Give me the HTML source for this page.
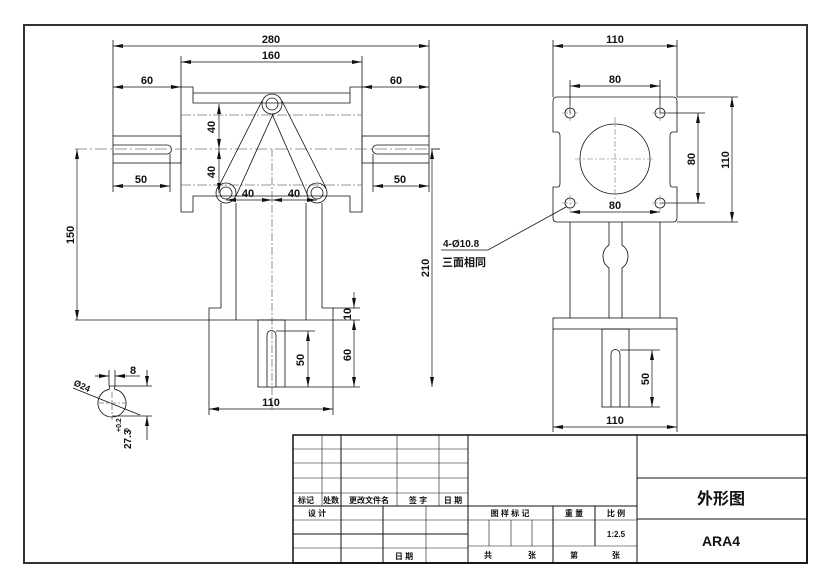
<!DOCTYPE html>
<html><head><meta charset="utf-8"><style>
html,body{margin:0;padding:0;background:#fff;width:833px;height:587px;overflow:hidden}
svg{display:block}
text{font-family:"Liberation Sans","Noto Sans CJK SC",sans-serif;font-weight:bold;fill:#111}
</style></head><body>
<svg width="833" height="587" viewBox="0 0 833 587" xmlns="http://www.w3.org/2000/svg">
<defs>
<marker id="a" viewBox="0 0 10 4" refX="10" refY="2" markerWidth="10" markerHeight="4" orient="auto-start-reverse" markerUnits="userSpaceOnUse"><path d="M0,0 L10,2 L0,4z" fill="#111"/></marker>
</defs>
<rect x="24" y="25" width="783" height="538" fill="none" stroke="#333" stroke-width="2"/>
<g stroke="#111" stroke-width="0.8" fill="none">
<path d="M181,87 H193 V103 H350 V87 H362 V212 H350 V196 H193 V212 H181 Z"/>
<line x1="193" y1="93" x2="350" y2="93"/>
<line x1="181" y1="115" x2="362" y2="115" stroke="#777" stroke-dasharray="10,2,2,2"/>
<line x1="181" y1="185" x2="362" y2="185" stroke="#777" stroke-dasharray="10,2,2,2"/>
<rect x="113" y="136" width="68" height="27"/>
<path d="M113,145 H167 A4.5,4.5 0 0 1 167,154 H113"/>
<rect x="362" y="136" width="67" height="27"/>
<path d="M429,145 H377 A4.5,4.5 0 0 0 377,154 H429"/>
<line x1="75" y1="149" x2="440" y2="149" stroke="#777" stroke-dasharray="12,3,2,3"/>
<line x1="272" y1="149" x2="272" y2="410" stroke="#777" stroke-dasharray="8,2,2,2"/>
<circle cx="272" cy="104" r="10"/><circle cx="272" cy="104" r="6"/>
<circle cx="226" cy="193" r="10"/><circle cx="226" cy="193" r="6"/>
<circle cx="317" cy="193" r="10"/><circle cx="317" cy="193" r="6"/>
<line x1="262" y1="101" x2="218" y2="188"/><line x1="273" y1="114" x2="236" y2="196"/>
<line x1="282" y1="101" x2="326" y2="188"/><line x1="272" y1="114" x2="308" y2="196"/>
<line x1="221" y1="203" x2="221" y2="308"/><line x1="322" y1="203" x2="322" y2="308"/>
<line x1="236" y1="203" x2="236" y2="320"/><line x1="306" y1="203" x2="306" y2="320"/>
<path d="M221,308 H209 V415 M322,308 H333 V415"/>
<line x1="75" y1="320" x2="360" y2="320"/>
<rect x="258" y="320" width="27" height="67"/>
<path d="M267,387 V335 A4.5,4.5 0 0 1 276,335 V387"/>
<line x1="285" y1="387" x2="360" y2="387"/>
<line x1="276" y1="331" x2="315" y2="331"/>
<line x1="333" y1="308" x2="360" y2="308"/>
<line x1="113" y1="40" x2="113" y2="136"/><line x1="429" y1="40" x2="429" y2="136"/>
<line x1="181" y1="56" x2="181" y2="87"/><line x1="362" y1="56" x2="362" y2="87"/>
<line x1="113" y1="163" x2="113" y2="192"/><line x1="170" y1="154" x2="170" y2="192"/>
<line x1="373" y1="154" x2="373" y2="192"/><line x1="429" y1="163" x2="429" y2="192"/>
<line x1="432" y1="149" x2="440" y2="149"/>
</g>
<g stroke="#111" stroke-width="0.7" fill="none" marker-start="url(#a)" marker-end="url(#a)">
<line x1="113" y1="46" x2="429" y2="46"/>
<line x1="181" y1="62" x2="362" y2="62"/>
<line x1="113" y1="87" x2="181" y2="87"/>
<line x1="362" y1="87" x2="429" y2="87"/>
<line x1="113" y1="186" x2="170" y2="186"/>
<line x1="373" y1="186" x2="429" y2="186"/>
<line x1="219" y1="104" x2="219" y2="149"/>
<line x1="219" y1="149" x2="219" y2="193"/>
<line x1="226" y1="200" x2="272" y2="200"/>
<line x1="272" y1="200" x2="317" y2="200"/>
<line x1="77" y1="149" x2="77" y2="320"/>
<line x1="432" y1="149" x2="432" y2="387"/>
<line x1="308" y1="331" x2="308" y2="387"/>
<line x1="209" y1="409" x2="333" y2="409"/>
<line x1="354" y1="320" x2="354" y2="387"/>
</g>
<g stroke="#111" stroke-width="0.7" fill="none">
<line x1="354" y1="292" x2="354" y2="308" marker-end="url(#a)"/>
<line x1="354" y1="320" x2="354" y2="330"/>
</g>
<g font-size="11" text-anchor="middle">
<text x="271" y="43">280</text><text x="271" y="59">160</text>
<text x="147" y="84">60</text><text x="396" y="84">60</text>
<text x="141" y="183">50</text><text x="400" y="183">50</text>
<text x="248" y="197">40</text><text x="294" y="197">40</text>
<text transform="translate(215,127) rotate(-90)">40</text>
<text transform="translate(215,172) rotate(-90)">40</text>
<text transform="translate(74,235) rotate(-90)">150</text>
<text transform="translate(429,268) rotate(-90)">210</text>
<text transform="translate(304,360) rotate(-90)">50</text>
<text transform="translate(351,355) rotate(-90)">60</text>
<text transform="translate(351,314) rotate(-90)">10</text>
<text x="271" y="406">110</text>
</g>
<!-- key section -->
<g stroke="#111" stroke-width="0.8" fill="none">
<path d="M109.3,389.3 A14,14 0 1 0 114.7,389.3"/>
<path d="M109.3,389.3 V386 H114.7 V389.3"/>
<line x1="109" y1="370" x2="109" y2="386"/><line x1="115" y1="370" x2="115" y2="386"/>
<line x1="95" y1="376" x2="109" y2="376" marker-end="url(#a)"/>
<line x1="140" y1="376" x2="115" y2="376" marker-end="url(#a)"/>
<line x1="73" y1="388" x2="140" y2="415"/>
<line x1="115" y1="386" x2="152" y2="386"/><line x1="112" y1="416" x2="152" y2="416"/>
<line x1="147" y1="370" x2="147" y2="386" marker-end="url(#a)"/>
<line x1="147" y1="440" x2="147" y2="416" marker-end="url(#a)"/>
<line x1="98" y1="403" x2="126" y2="403" stroke="#777" stroke-dasharray="6,2,2,2"/>
<line x1="112" y1="392" x2="112" y2="420" stroke="#777" stroke-dasharray="6,2,2,2"/>
</g>
<text x="133" y="374" font-size="11" text-anchor="middle">8</text>
<text transform="translate(73,385) rotate(25)" font-size="9">Ø24</text>
<text transform="translate(131,449) rotate(-90)" font-size="10">27.3</text>
<text transform="translate(121,432) rotate(-90)" font-size="7">+0.2</text>
<text transform="translate(129,432) rotate(-90)" font-size="7">0</text>
<!-- side view -->
<g stroke="#111" stroke-width="0.8" fill="none">
<path d="M557,97 H673 Q677,97 677,101 V132 H672 Q670,133 670,136 V183 Q670,187 672,187 H677 V218 Q677,222 673,222 H557 Q553,222 553,218 V187 H558 Q560,187 560,183 V136 Q560,133 558,132 H553 V101 Q553,97 557,97 Z"/>
<circle cx="570" cy="113" r="5"/><circle cx="660" cy="113" r="5"/>
<circle cx="570" cy="203" r="5"/><circle cx="660" cy="203" r="5"/>
<circle cx="615" cy="159" r="35"/>
<line x1="570" y1="222" x2="570" y2="318"/><line x1="660" y1="222" x2="660" y2="318"/>
<path d="M609,222 V245 Q603,249 603,256 Q603,264 609,268 V318 M622,222 V245 Q628,249 628,256 Q628,264 622,268 V318"/>
<rect x="553" y="318" width="124" height="11"/>
<line x1="553" y1="329" x2="553" y2="432"/><line x1="677" y1="329" x2="677" y2="432"/>
<rect x="602" y="329" width="27" height="78"/>
<path d="M611,407 V354 A4.5,4.5 0 0 1 620,354 V407"/>
<line x1="620" y1="350" x2="660" y2="350"/><line x1="629" y1="407" x2="660" y2="407"/>
<line x1="553" y1="40" x2="553" y2="97"/><line x1="677" y1="40" x2="677" y2="97"/>
<line x1="570" y1="80" x2="570" y2="113"/><line x1="660" y1="80" x2="660" y2="113"/>
<line x1="660" y1="113" x2="705" y2="113"/><line x1="660" y1="203" x2="705" y2="203"/>
<line x1="677" y1="97" x2="738" y2="97"/><line x1="677" y1="222" x2="738" y2="222"/>
<path d="M441,250 H488 L566,207"/>
</g>
<g stroke="#777" stroke-width="0.6" stroke-dasharray="6,2,2,2">
<line x1="575" y1="159" x2="655" y2="159"/><line x1="615" y1="117" x2="615" y2="200"/>
<line x1="562" y1="113" x2="578" y2="113"/><line x1="570" y1="105" x2="570" y2="121"/>
<line x1="652" y1="113" x2="668" y2="113"/><line x1="660" y1="105" x2="660" y2="121"/>
<line x1="562" y1="203" x2="578" y2="203"/><line x1="570" y1="195" x2="570" y2="211"/>
<line x1="652" y1="203" x2="668" y2="203"/><line x1="660" y1="195" x2="660" y2="211"/>
</g>
<g stroke="#111" stroke-width="0.7" fill="none" marker-start="url(#a)" marker-end="url(#a)">
<line x1="553" y1="46" x2="677" y2="46"/>
<line x1="570" y1="86" x2="660" y2="86"/>
<line x1="570" y1="212" x2="660" y2="212"/>
<line x1="698" y1="113" x2="698" y2="203"/>
<line x1="732" y1="97" x2="732" y2="222"/>
<line x1="652" y1="350" x2="652" y2="407"/>
<line x1="553" y1="427" x2="677" y2="427"/>
</g>
<g font-size="11" text-anchor="middle">
<text x="615" y="43">110</text><text x="615" y="83">80</text><text x="615" y="209">80</text>
<text transform="translate(695,159) rotate(-90)">80</text>
<text transform="translate(729,160) rotate(-90)">110</text>
<text transform="translate(649,379) rotate(-90)">50</text>
<text x="615" y="424">110</text>
</g>
<text x="443" y="247" font-size="10">4-Ø10.8</text>
<text x="442" y="266" font-size="11">三面相同</text>
<!-- title block -->
<g stroke="#111" stroke-width="1" fill="none">
<rect x="293" y="435" width="514" height="128" stroke-width="1.5"/>
<line x1="468" y1="435" x2="468" y2="563"/><line x1="637" y1="435" x2="637" y2="563"/>
<line x1="293" y1="449" x2="468" y2="449" stroke-width="0.6"/>
<line x1="293" y1="463" x2="468" y2="463" stroke-width="0.6"/>
<line x1="293" y1="478" x2="468" y2="478" stroke-width="0.6"/>
<line x1="293" y1="493" x2="468" y2="493" stroke-width="0.6"/>
<line x1="293" y1="506" x2="637" y2="506"/>
<line x1="293" y1="520" x2="468" y2="520" stroke-width="0.6"/>
<line x1="293" y1="534" x2="468" y2="534"/>
<line x1="293" y1="548" x2="468" y2="548" stroke-width="0.6"/>
<line x1="322" y1="435" x2="322" y2="506" stroke-width="0.6"/>
<line x1="341" y1="435" x2="341" y2="563"/>
<line x1="397" y1="435" x2="397" y2="506" stroke-width="0.6"/>
<line x1="439" y1="435" x2="439" y2="506" stroke-width="0.6"/>
<line x1="383" y1="506" x2="383" y2="563"/>
<line x1="426" y1="506" x2="426" y2="563" stroke-width="0.6"/>
<line x1="468" y1="520" x2="637" y2="520" stroke-width="0.6"/>
<line x1="468" y1="546" x2="637" y2="546" stroke-width="0.6"/>
<line x1="553" y1="506" x2="553" y2="563"/><line x1="595" y1="506" x2="595" y2="546"/>
<line x1="489" y1="520" x2="489" y2="546" stroke-width="0.6"/>
<line x1="511" y1="520" x2="511" y2="546" stroke-width="0.6"/>
<line x1="532" y1="520" x2="532" y2="546" stroke-width="0.6"/>
<line x1="637" y1="478" x2="807" y2="478"/><line x1="637" y1="519" x2="807" y2="519"/>
</g>
<g font-size="8" text-anchor="middle">
<text x="306" y="503">标记</text><text x="331" y="503">处数</text>
<text x="369" y="503">更改文件名</text><text x="418" y="503">签 字</text><text x="453" y="503">日 期</text>
<text x="317" y="516">设 计</text><text x="404" y="559">日 期</text>
<text x="510" y="516">图 样 标 记</text><text x="574" y="516">重 量</text><text x="616" y="516">比 例</text>
<text x="616" y="537">1:2.5</text>
<text x="488" y="558">共</text><text x="532" y="558">张</text>
<text x="574" y="558">第</text><text x="616" y="558">张</text>
</g>
<text x="721" y="504" font-size="16" font-weight="normal" text-anchor="middle">外形图</text>
<text x="721" y="546" font-size="14" text-anchor="middle">ARA4</text>
</svg>
</body></html>
